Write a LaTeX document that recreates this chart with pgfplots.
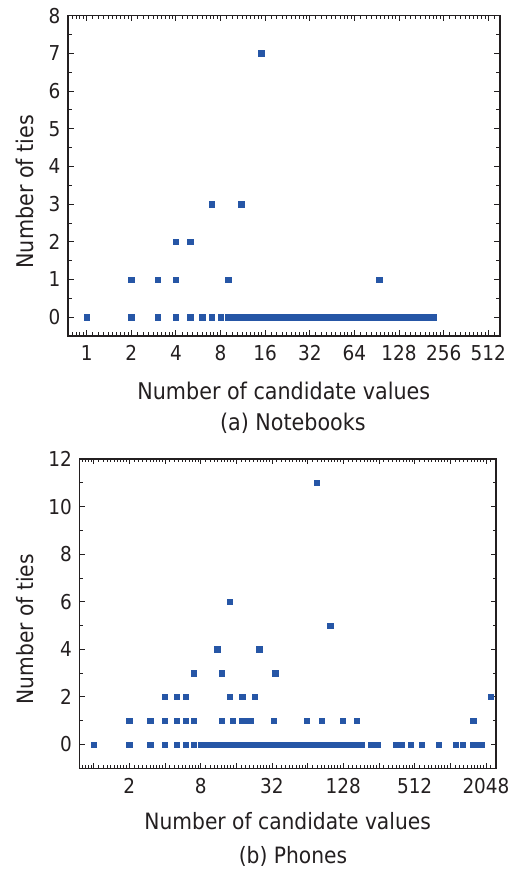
\documentclass[border=0pt]{standalone}
\usepackage{pgfplots}
\pgfplotsset{compat=1.18}
\usepackage{fontspec}
\setmainfont{DejaVu Sans Condensed}
\definecolor{ptblue}{RGB}{38,86,166}
\definecolor{axgray}{RGB}{35,31,32}

\begin{document}
\begin{tikzpicture}
\useasboundingbox (0pt,0pt) rectangle (514pt,871pt);

% (a) Notebooks, x on a base-2 log scale via a coordinate transformation
\begin{axis}[
  scale only axis,
  x coord trafo/.code={\pgfmathparse{ln(#1)/0.693147}},
  x coord inv trafo/.code={\pgfmathparse{2^(#1)}},
  tick align=inside,
  major tick length=5.5pt, minor tick length=3.5pt,
  axis line style={axgray, line width=1.1pt},
  tick style={axgray, line width=0.9pt},
  ticklabel style={font=\fontsize{20.5}{20.5}\selectfont, text=axgray},
  /pgf/number format/assume math mode=true,
  xticklabel style={yshift=-6pt},
  yticklabel style={xshift=-4pt},
  at={(68pt,535pt)}, anchor=south west,
  width=432pt, height=320.3pt,
  xmin=0.748, xmax=614,
  ymin=-0.5, ymax=8,
  xtick={1,2,4,8,16,32,64,128,256,512},
  xticklabels={1,2,4,8,16,32,64,128,256,512},
  minor xtick={0.8,0.85,0.9,0.95,
    1.1,1.2,1.3,1.4,1.5,1.6,1.7,1.8,1.9,
    2.2,2.4,2.6,2.8,3,3.2,3.4,3.6,3.8,
    4.4,4.8,5.2,5.6,6,6.4,6.8,7.2,7.6,
    8.8,9.6,10.4,11.2,12,12.8,13.6,14.4,15.2,
    17.6,19.2,20.8,22.4,24,25.6,27.2,28.8,30.4,
    35.2,38.4,41.6,44.8,48,51.2,54.4,57.6,60.8,
    70.4,76.8,83.2,89.6,96,102.4,108.8,115.2,121.6,
    140.8,153.6,166.4,179.2,192,204.8,217.6,230.4,243.2,
    281.6,307.2,332.8,358.4,384,409.6,435.2,460.8,486.4,
    563.2},
  ytick={0,1,2,3,4,5,6,7,8},
  minor ytick={-0.5,0.5,1.5,2.5,3.5,4.5,5.5,6.5,7.5},
]
\addplot[only marks, mark=square*, mark size=2.7pt, color=ptblue] coordinates {
(1,0)(2,0)(3,0)(4,0)(5,0)(6,0)(7,0)(8,0)(9,0)
(10,0)(11,0)(12,0)(13,0)(14,0)(15,0)(16,0)(17,0)(18,0)(19,0)
(20,0)(21,0)(22,0)(23,0)(24,0)(25,0)(26,0)(27,0)(28,0)(29,0)
(30,0)(31,0)(32,0)(33,0)(34,0)(35,0)(36,0)(37,0)(38,0)(39,0)
(40,0)(41,0)(42,0)(43,0)(44,0)(45,0)(46,0)(47,0)(48,0)(49,0)
(50,0)(51,0)(52,0)(53,0)(54,0)(55,0)(56,0)(57,0)(58,0)(59,0)
(60,0)(61,0)(62,0)(63,0)(64,0)(65,0)(66,0)(67,0)(68,0)(69,0)
(70,0)(71,0)(72,0)(74,0)(75,0)(77,0)(78,0)(80,0)(81,0)(83,0)
(84,0)(86,0)(87,0)(89,0)(90,0)(92,0)(93,0)(95,0)(97,0)(98,0)
(100,0)(102,0)(104,0)(105,0)(107,0)(109,0)(111,0)(113,0)(115,0)
(117,0)(120,0)(122,0)(124,0)(126,0)(128,0)(131,0)(134,0)(137,0)
(141,0)(144,0)(147,0)(150,0)(154,0)(157,0)(161,0)(164,0)(168,0)
(172,0)(176,0)(180,0)(184,0)(187,0)(205,0)(218,0)
(2,1)(3,1)(4,1)(9,1)(94,1)
(4,2)(5,2)
(7,3)(11,3)
(15,7)
};
\end{axis}

% (b) Phones
\begin{axis}[
  scale only axis,
  x coord trafo/.code={\pgfmathparse{ln(#1)/0.693147}},
  x coord inv trafo/.code={\pgfmathparse{2^(#1)}},
  tick align=inside,
  major tick length=5.5pt, minor tick length=3.5pt,
  axis line style={axgray, line width=1.1pt},
  tick style={axgray, line width=0.9pt},
  ticklabel style={font=\fontsize{20.5}{20.5}\selectfont, text=axgray},
  /pgf/number format/assume math mode=true,
  xticklabel style={yshift=-6pt},
  yticklabel style={xshift=-4pt},
  at={(79.3pt,102.7pt)}, anchor=south west,
  width=416.7pt, height=309.3pt,
  xmin=0.757, xmax=2489,
  ymin=-1, ymax=12,
  xtick={1,2,4,8,16,32,64,128,256,512,1024,2048},
  xticklabels={,2,,8,,32,,128,,512,,2048},
  minor xtick={0.8,0.85,0.9,0.95,
    1.1,1.2,1.3,1.4,1.5,1.6,1.7,1.8,1.9,
    2.2,2.4,2.6,2.8,3,3.2,3.4,3.6,3.8,
    4.4,4.8,5.2,5.6,6,6.4,6.8,7.2,7.6,
    8.8,9.6,10.4,11.2,12,12.8,13.6,14.4,15.2,
    17.6,19.2,20.8,22.4,24,25.6,27.2,28.8,30.4,
    35.2,38.4,41.6,44.8,48,51.2,54.4,57.6,60.8,
    70.4,76.8,83.2,89.6,96,102.4,108.8,115.2,121.6,
    140.8,153.6,166.4,179.2,192,204.8,217.6,230.4,243.2,
    281.6,307.2,332.8,358.4,384,409.6,435.2,460.8,486.4,
    563.2,614.4,665.6,716.8,768,819.2,870.4,921.6,972.8,
    1126.4,1228.8,1331.2,1433.6,1536,1638.4,1740.8,1843.2,1945.6,
    2252.8},
  ytick={0,2,4,6,8,10,12},
  minor ytick={1,3,5,7,9,11},
]
\addplot[only marks, mark=square*, mark size=2.7pt, color=ptblue] coordinates {
(1,0)(2,0)(3,0)(4,0)(5,0)(6,0)(7,0)
(8,0)(9,0)(10,0)(11,0)(12,0)(13,0)(14,0)(15,0)(16,0)(17,0)(18,0)(19,0)
(20,0)(21,0)(22,0)(23,0)(24,0)(25,0)(26,0)(27,0)(28,0)(29,0)
(30,0)(31,0)(32,0)(33,0)(34,0)(35,0)(36,0)(37,0)(38,0)(39,0)
(40,0)(41,0)(42,0)(43,0)(44,0)(45,0)(46,0)(47,0)(48,0)(49,0)
(50,0)(51,0)(52,0)(53,0)(54,0)(55,0)(56,0)(57,0)(58,0)(59,0)
(60,0)(61,0)(62,0)(63,0)(64,0)(66,0)(67,0)(69,0)(70,0)(72,0)
(74,0)(75,0)(77,0)(79,0)(81,0)(83,0)(85,0)(87,0)(89,0)(91,0)
(93,0)(95,0)(97,0)(99,0)(102,0)(104,0)(107,0)(110,0)(113,0)
(116,0)(119,0)(122,0)(125,0)(128,0)(131,0)(135,0)(139,0)(143,0)
(147,0)(151,0)(155,0)(158,0)(161,0)(174,0)(184,0)
(220,0)(238,0)(248,0)(357,0)(380,0)(400,0)(474,0)(588,0)(818,0)
(1140,0)(1307,0)(1590,0)(1640,0)(1860,0)
(2,1)(3,1)(4,1)(5,1)(6,1)(7,1)(12,1)(15,1)(18,1)(20,1)(21,1)
(33,1)(63,1)(84,1)(126,1)(166,1)(1600,1)
(4,2)(5,2)(6,2)(14,2)(18,2)(23,2)(2240,2)
(7,3)(12,3)(34,3)
(11,4)(25,4)
(99,5)
(14,6)
(76,11)
};
\end{axis}

\begin{scope}[font=\fontsize{23}{23}\selectfont, text=axgray]
\node[rotate=90, anchor=base] at (33.3pt,679.3pt) {Number of ties};
\node[anchor=base] at (283.8pt,471pt) {Number of candidate values};
\node[anchor=base] at (292.8pt,440pt) {(a) Notebooks};
\end{scope}
\begin{scope}[font=\fontsize{22.5}{22.5}\selectfont, text=axgray]
\node[rotate=90, anchor=base] at (34pt,241.8pt) {Number of ties};
\node[anchor=base] at (287.7pt,41.7pt) {Number of candidate values};
\node[anchor=base] at (293pt,7pt) {(b) Phones};
\end{scope}
\end{tikzpicture}
\end{document}
